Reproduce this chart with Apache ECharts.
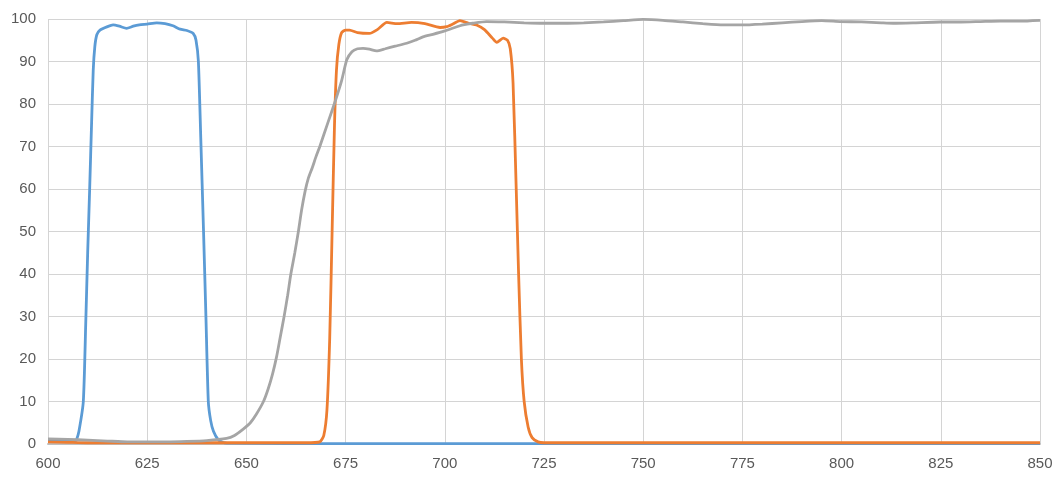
<!DOCTYPE html>
<html><head><meta charset="utf-8">
<script src="https://cdn.jsdelivr.net/npm/echarts@6/dist/echarts.min.js"></script>
<style>html,body{margin:0;padding:0;background:#fff}#c{width:1057px;height:483px}</style>
</head><body><div id="c"></div>
<script>
// Wavelength (nm) / transmission (%) pairs
const blueX = [600,603,605,607,607.2,607.8,608.9,609.5,610,610.5,611,611.4,611.8,612.3,613.1,615,616.4,618,619.8,621.5,623,625,627.4,629.5,631.5,633.3,635,636.6,637.3,637.9,638.5,639.2,639.8,640.4,641,641.7,642.9,644,645,660,680,700,720,740,760,780,800,820,850];
const blueY = [0.9,0.9,0.8,0.8,1,3,10,28,45,60,76,88,93.5,96.3,97.4,98.2,98.6,98.3,97.8,98.3,98.6,98.8,99.1,98.9,98.4,97.6,97.3,96.6,95,90,72,50,30,10,5.5,3,1,0.4,0.2,0.1,0.1,0.1,0.1,0.1,0.1,0.1,0.1,0.1,0.1];

const orangeX = [600,605,610,620,630,640,650,660,665,668.5,669.5,670.3,671,671.6,672.2,672.7,673.3,674,675,676,678,681,683,685.4,688,691.6,695,698.8,700.5,702,703.8,706,708,710,712,713.1,714.7,715.8,716.5,717.2,718,718.6,719.3,720,721,722,723.5,725,740,760,780,800,820,850];
const orangeY = [0.5,0.4,0.3,0.3,0.3,0.3,0.3,0.3,0.3,0.5,2,8,25,50,75,88,94,96.8,97.4,97.4,96.8,96.6,97.5,99.2,98.9,99.2,98.9,98.0,98.2,98.8,99.6,99.0,98.6,97.5,95.5,94.5,95.5,95,93,85,60,40,20,10,4,1.5,0.5,0.3,0.3,0.3,0.3,0.3,0.3,0.3];

const grayX = [600,605,610,615,620,625,630,635,640,645,647,649.2,651,652.5,654.3,655.5,656.6,657.6,658.5,659.5,660.4,661.2,662.2,663.1,663.9,664.8,665.6,666.6,667.5,668.5,670.5,672.5,674,675.3,676.6,678,679.4,681,682.8,685,687.5,690.4,692.5,694.5,697,700,702.5,704.6,707,710.5,715,720,724.8,730,735,740,745,750,755,760,765,770.1,775,780,785,790,795,799.6,805,810,813,818,824.8,830,835,840,845,850];
const grayY = [1.2,1.1,0.9,0.7,0.5,0.5,0.5,0.6,0.8,1.3,2,3.5,5,7,10,13,16.5,20.5,25,30,35,40,45,50,55,59.5,62.5,65,67.5,70,75.5,81,85.5,90.4,92.3,93,93.1,92.9,92.5,93.0,93.6,94.3,95.0,95.8,96.4,97.2,98.0,98.6,99.0,99.4,99.3,99.1,99.0,99.0,99.1,99.3,99.6,99.9,99.7,99.3,98.9,98.6,98.6,98.8,99.1,99.4,99.6,99.4,99.3,99.1,99.0,99.1,99.3,99.3,99.4,99.5,99.5,99.7];

const xTicks = [600,625,650,675,700,725,750,775,800,825,850];
const yTicks = [0,10,20,30,40,50,60,70,80,90,100];

function pairs(xs, ys){ return xs.map((x,i)=>[x, ys[i]]); }

const chart = echarts.init(document.getElementById('c'), null, {renderer:'canvas'});
const lbl = {color:'#595959', fontSize:15, fontFamily:'Liberation Sans, Arial, sans-serif'};
chart.setOption({
  animation:false,
  backgroundColor:'#ffffff',
  grid:{left:48, right:17, top:19, bottom:39, containLabel:false},
  xAxis:{type:'value', min:xTicks[0], max:xTicks[xTicks.length-1], interval:25,
    axisLine:{show:true, lineStyle:{color:'#bfbfbf', width:2}},
    axisTick:{show:false},
    axisLabel:Object.assign({margin:12}, lbl),
    splitLine:{show:true, lineStyle:{color:'#d4d4d4', width:1}}},
  yAxis:{type:'value', min:yTicks[0], max:yTicks[yTicks.length-1], interval:10,
    axisLine:{show:false}, axisTick:{show:false},
    axisLabel:Object.assign({margin:12}, lbl),
    splitLine:{show:true, lineStyle:{color:'#d4d4d4', width:1}}},
  series:[
    {type:'line', name:'blue', data:pairs(blueX, blueY), showSymbol:false, symbol:'none', smooth:0.2,
     lineStyle:{color:'#5b9bd5', width:2.8}, z:2},
    {type:'line', name:'orange', data:pairs(orangeX, orangeY), showSymbol:false, symbol:'none', smooth:0.2,
     lineStyle:{color:'#ed7d31', width:2.8}, z:3},
    {type:'line', name:'gray', data:pairs(grayX, grayY), showSymbol:false, symbol:'none', smooth:0.2,
     lineStyle:{color:'#a5a5a5', width:2.8}, z:4}
  ]
});
</script></body></html>
